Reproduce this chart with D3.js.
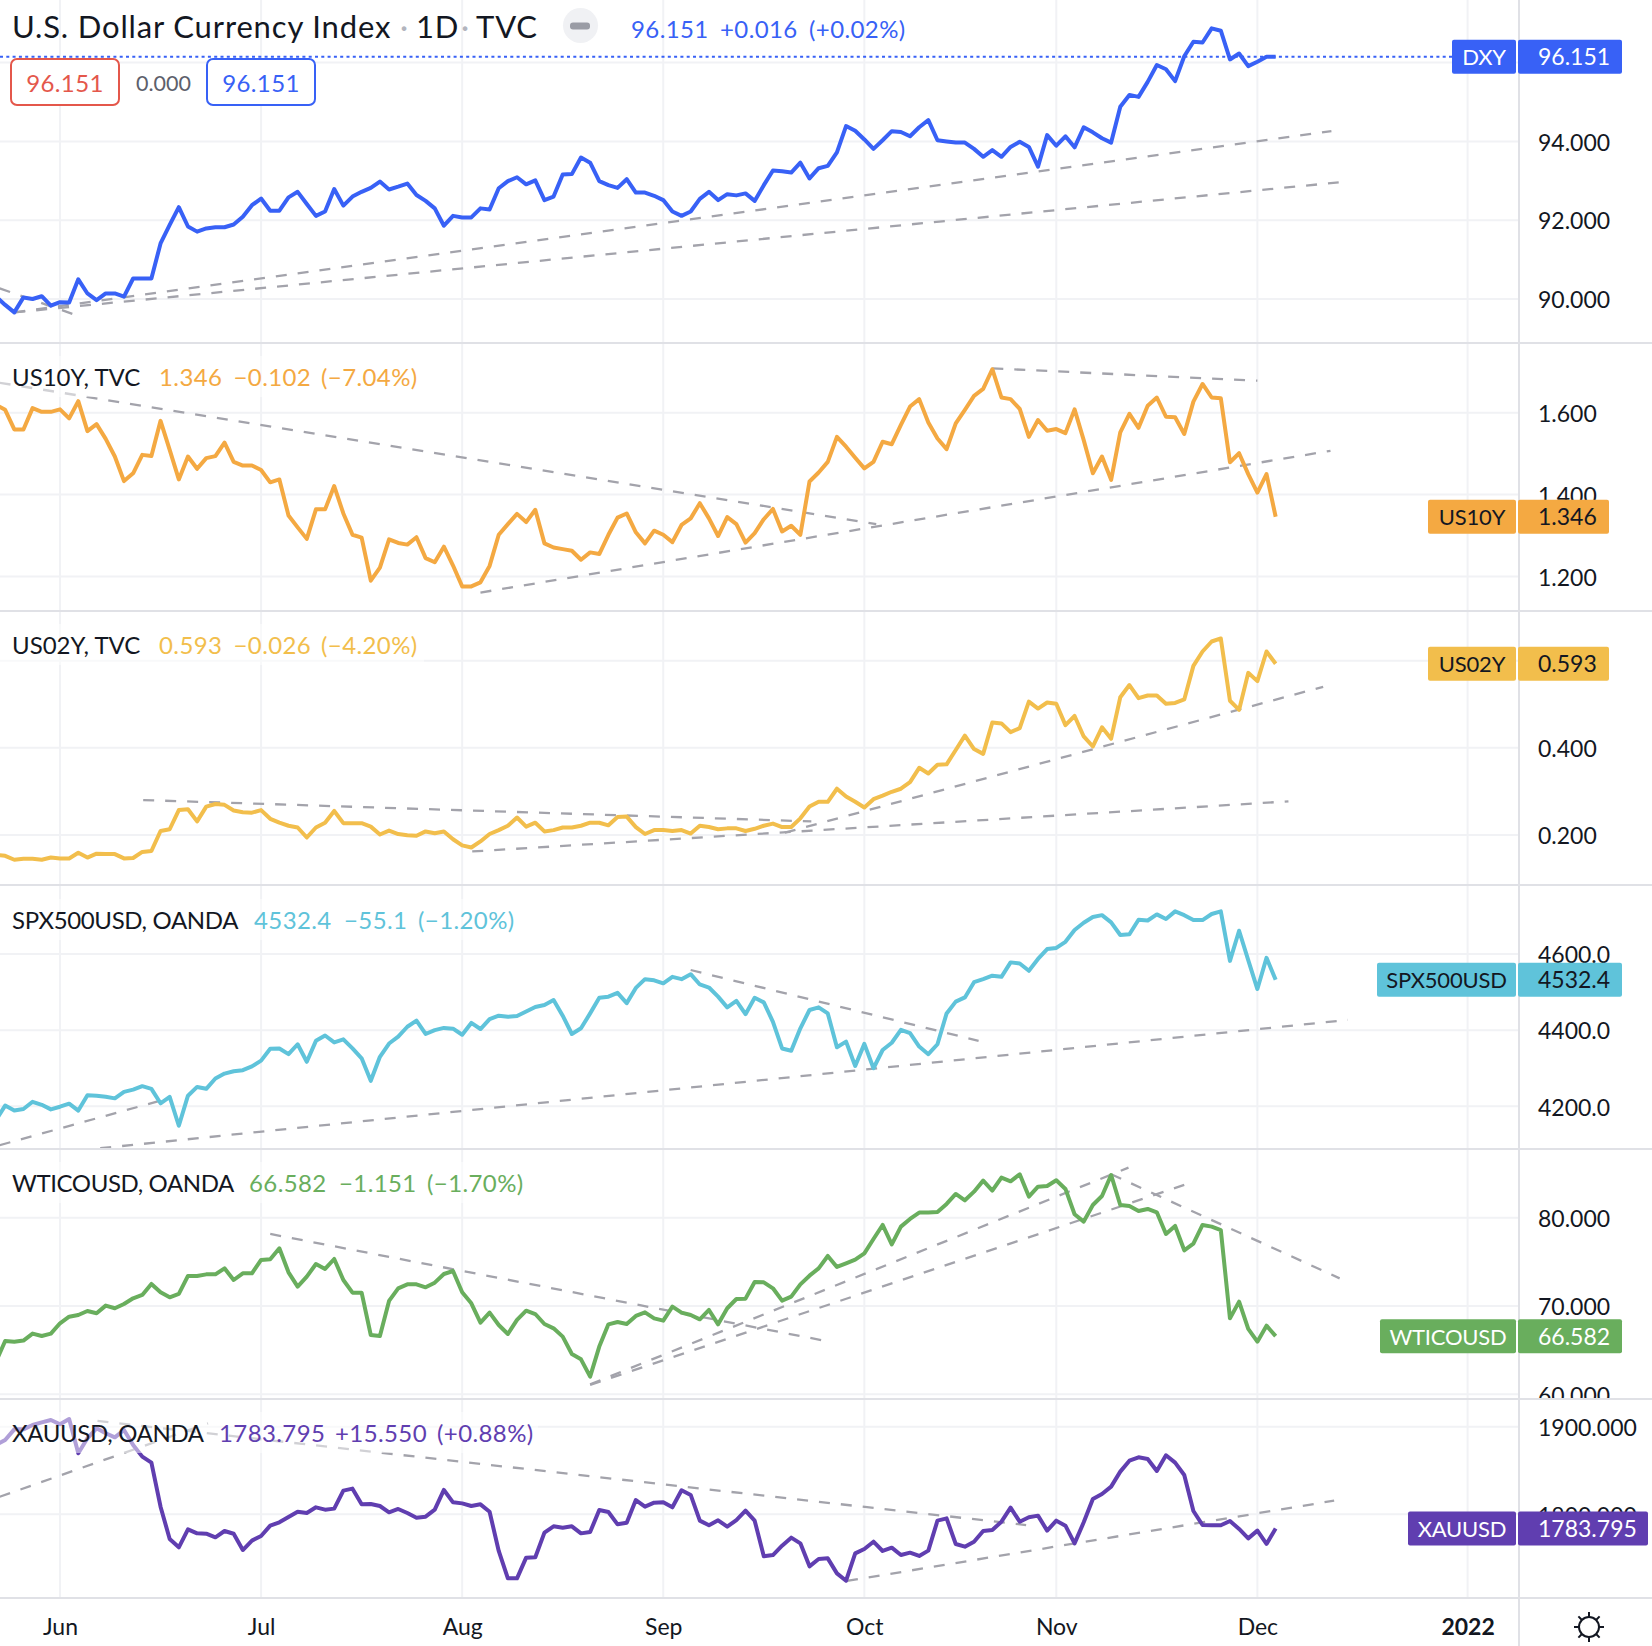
<!DOCTYPE html>
<html>
<head>
<meta charset="utf-8">
<script src="https://cdn.jsdelivr.net/npm/d3@7"></script>
<style>
  html, body { margin: 0; background: #fff; }
  text { font-family: Lato, "Noto Sans", sans-serif; }
</style>
</head>
<body>
<div id="chart"></div>
<script>
// daily closes, first value sits 7 bars before Jun 1 2021, last one is Dec 3
const dxy = [90.06,89.85,89.66,90.04,90.00,90.07,89.83,89.92,89.91,90.50,90.14,89.97,90.14,90.14,90.06,90.52,90.52,90.52,91.41,91.88,92.33,91.84,91.71,91.79,91.82,91.82,91.89,92.09,92.38,92.55,92.24,92.24,92.58,92.72,92.41,92.11,92.22,92.79,92.37,92.60,92.72,92.82,92.98,92.78,92.85,92.93,92.64,92.49,92.30,91.86,92.11,92.07,92.07,92.30,92.27,92.81,92.99,93.09,92.91,93.01,92.51,92.60,93.16,93.17,93.59,93.46,92.99,92.89,92.82,93.04,92.70,92.70,92.62,92.51,92.22,92.11,92.22,92.54,92.72,92.51,92.66,92.63,92.68,92.49,92.89,93.26,93.24,93.21,93.46,93.06,93.32,93.38,93.72,94.39,94.27,94.05,93.81,94.03,94.26,94.24,94.13,94.36,94.54,94.03,94.00,93.97,93.97,93.81,93.61,93.78,93.61,93.86,93.99,93.86,93.36,94.16,93.89,94.13,93.85,94.36,94.23,94.08,93.97,94.88,95.18,95.13,95.51,95.94,95.83,95.53,96.16,96.53,96.51,96.87,96.81,96.08,96.23,95.91,96.02,96.15,96.151];
const us10y = [1.619,1.607,1.559,1.559,1.611,1.602,1.602,1.608,1.586,1.628,1.555,1.572,1.536,1.493,1.433,1.452,1.497,1.494,1.580,1.509,1.437,1.493,1.463,1.489,1.494,1.527,1.480,1.471,1.471,1.460,1.430,1.437,1.349,1.320,1.292,1.364,1.364,1.421,1.354,1.302,1.295,1.190,1.222,1.291,1.282,1.278,1.296,1.245,1.235,1.273,1.227,1.176,1.176,1.186,1.226,1.302,1.328,1.353,1.333,1.363,1.281,1.271,1.267,1.263,1.241,1.259,1.255,1.302,1.344,1.354,1.308,1.281,1.312,1.302,1.284,1.326,1.342,1.379,1.342,1.299,1.345,1.328,1.283,1.306,1.340,1.365,1.310,1.324,1.302,1.432,1.454,1.480,1.541,1.517,1.490,1.464,1.480,1.529,1.523,1.570,1.615,1.633,1.576,1.537,1.511,1.574,1.607,1.641,1.658,1.706,1.637,1.633,1.609,1.541,1.582,1.556,1.560,1.550,1.608,1.533,1.452,1.493,1.436,1.552,1.597,1.563,1.617,1.637,1.590,1.589,1.548,1.627,1.670,1.637,1.635,1.479,1.501,1.450,1.405,1.450,1.346];
const us02y = [0.154,0.152,0.143,0.145,0.145,0.143,0.148,0.146,0.146,0.159,0.148,0.157,0.156,0.156,0.146,0.147,0.161,0.163,0.209,0.213,0.257,0.259,0.231,0.265,0.271,0.269,0.256,0.252,0.251,0.257,0.237,0.228,0.221,0.217,0.194,0.217,0.228,0.255,0.227,0.227,0.227,0.219,0.201,0.210,0.202,0.199,0.198,0.208,0.204,0.208,0.190,0.176,0.171,0.185,0.202,0.211,0.221,0.240,0.219,0.228,0.208,0.211,0.217,0.217,0.221,0.228,0.228,0.222,0.241,0.242,0.218,0.202,0.211,0.211,0.209,0.211,0.203,0.221,0.218,0.213,0.215,0.215,0.209,0.214,0.221,0.226,0.218,0.218,0.238,0.265,0.276,0.276,0.306,0.288,0.276,0.263,0.282,0.290,0.299,0.306,0.321,0.354,0.341,0.361,0.362,0.395,0.428,0.397,0.386,0.458,0.456,0.436,0.445,0.506,0.490,0.504,0.501,0.452,0.473,0.426,0.403,0.447,0.421,0.516,0.544,0.514,0.520,0.520,0.501,0.503,0.511,0.588,0.621,0.644,0.651,0.508,0.487,0.572,0.553,0.621,0.593];
const spx = [4164,4202,4189,4193,4212,4204,4192,4199,4207,4189,4229,4228,4225,4221,4238,4244,4253,4246,4208,4225,4149,4228,4251,4246,4273,4286,4292,4295,4305,4320,4351,4352,4337,4363,4317,4372,4386,4368,4376,4352,4326,4267,4330,4365,4383,4409,4425,4390,4400,4406,4404,4388,4419,4403,4429,4438,4435,4437,4449,4461,4466,4479,4438,4390,4405,4444,4485,4488,4498,4471,4511,4534,4531,4523,4540,4534,4547,4520,4512,4488,4460,4477,4442,4485,4473,4422,4352,4346,4405,4453,4460,4444,4355,4370,4306,4364,4300,4348,4367,4401,4392,4357,4337,4363,4444,4475,4486,4526,4534,4543,4540,4578,4575,4556,4587,4613,4616,4632,4663,4682,4697,4702,4683,4650,4652,4690,4688,4704,4692,4712,4702,4689,4689,4705,4712,4582,4661,4584,4508,4590,4532.4];
const wti = [63.70,66.04,65.96,66.08,66.87,66.60,66.87,68.04,68.79,68.98,69.43,69.17,70.04,69.74,70.23,70.87,71.25,72.49,71.55,70.98,71.36,73.40,73.40,73.58,73.58,74.26,72.94,73.70,73.70,75.21,75.28,76.53,73.81,72.19,73.32,74.75,74.19,75.32,72.94,71.51,71.51,66.72,66.60,70.57,72.00,72.45,72.45,72.11,72.64,73.62,73.96,71.55,70.30,68.11,69.25,67.85,66.83,68.42,69.47,69.09,67.96,67.47,66.53,64.57,63.96,62.00,65.40,67.92,68.19,67.96,68.87,69.28,68.60,68.34,69.92,69.25,68.98,68.49,69.55,67.92,69.74,70.79,70.83,72.72,72.68,72.00,70.60,71.06,72.45,73.43,74.26,75.66,74.42,74.83,75.25,75.96,77.58,79.17,76.98,78.98,79.85,80.57,80.57,80.64,81.55,82.68,81.96,82.94,84.19,83.06,84.53,84.11,84.91,82.38,83.51,83.58,84.23,83.25,80.38,79.55,81.43,82.45,84.83,81.43,81.32,80.75,80.98,80.60,78.15,79.06,76.30,77.06,79.17,78.98,78.60,68.60,70.49,67.40,65.96,67.77,66.582];
const xau = [1879.1,1884.8,1896.9,1896.9,1901.9,1904.9,1907.6,1902.7,1908.7,1869.6,1886.7,1898.1,1892.4,1887.8,1896.2,1879.1,1865.8,1858.9,1808.7,1771.9,1762.4,1782.9,1778.3,1777.9,1773.8,1781.0,1777.9,1759.3,1770.0,1775.3,1787.1,1790.9,1797.0,1803.0,1801.5,1808.0,1805.3,1806.5,1827.0,1829.3,1811.4,1811.8,1809.5,1802.3,1806.1,1801.5,1796.2,1797.3,1805.3,1827.8,1813.7,1812.5,1809.5,1811.4,1803.0,1758.2,1727.0,1727.0,1750.6,1751.0,1779.1,1786.3,1784.8,1786.3,1778.3,1779.8,1804.9,1802.7,1788.6,1790.5,1816.3,1808.7,1813.3,1813.7,1808.0,1827.4,1822.1,1792.8,1787.5,1793.2,1785.9,1793.5,1804.2,1792.8,1752.1,1753.6,1764.3,1773.4,1766.9,1740.7,1749.1,1749.8,1732.7,1724.3,1755.5,1760.5,1768.8,1758.2,1762.0,1753.6,1756.3,1752.5,1758.6,1792.8,1795.4,1766.2,1763.1,1768.8,1781.0,1782.1,1791.6,1807.6,1791.6,1796.6,1798.5,1781.4,1792.8,1787.1,1766.9,1790.9,1817.5,1823.2,1831.6,1848.7,1861.2,1865.0,1863.1,1849.4,1867.3,1858.9,1844.9,1803.8,1787.8,1787.5,1787.5,1792.4,1783.3,1772.6,1781.4,1766.2,1783.795];

// hand drawn trend lines: [bar, value, bar, value]
const dxyTrends = [[-6.6,90.27,2,89.57],[-5,89.66,139.1,94.26],[-5,89.66,139.9,92.96]];
const us10yTrends = [[-6.6,1.673,89.3,1.328],[46,1.161,139,1.507],[102,1.708,131,1.678]];
const us02yTrends = [[9.1,0.28,82.2,0.231],[45.1,0.162,134.4,0.277],[79.3,0.205,138.2,0.54]];
const spxTrends = [[-6.6,4098,11.9,4221],[4.4,4090,140.9,4427],[69,4558,100.5,4372]];
const wtiTrends = [[23,78.15,83.6,66.08],[58,61.13,116.9,85.66],[58,61.06,123,83.7],[115,84.91,140,73.13]];
const xauTrends = [[-6.6,1820,16.2,1903.8],[4.1,1906.5,105.7,1787.8],[86.1,1724,139.4,1815.6]];

const monthBars = [0, 22, 44, 66, 88, 109, 131, 154];
const monthLabels = ["Jun", "Jul", "Aug", "Sep", "Oct", "Nov", "Dec", "2022"];

const series = [dxy, us10y, us02y, spx, wti, xau];
const trends = [dxyTrends, us10yTrends, us02yTrends, spxTrends, wtiTrends, xauTrends];
const symbols = ["DXY", "US10Y", "US02Y", "SPX500USD", "WTICOUSD", "XAUUSD"];
const lastLabels = ["96.151", "1.346", "0.593", "4532.4", "66.582", "1783.795"];
const titles = ["", "US10Y, TVC", "US02Y, TVC", "SPX500USD, OANDA", "WTICOUSD, OANDA", "XAUUSD, OANDA"];
const changes = ["+0.016", "−0.102", "−0.026", "−55.1", "−1.151", "+15.550"];
const percents = ["(+0.02%)", "(−7.04%)", "(−4.20%)", "(−1.20%)", "(−1.70%)", "(+0.88%)"];
// grid lines; 96 and 0.6 have no visible label, their tag sits on top
const gridTicks = [
  [90, 92, 94, 96],
  [1.2, 1.4, 1.6],
  [0.2, 0.4, 0.6],
  [4200, 4400, 4600],
  [60, 70, 80],
  [1800, 1900],
];
const labelTicks = [
  [90, 92, 94],
  [1.2, 1.4, 1.6],
  [0.2, 0.4],
  [4200, 4400, 4600],
  [60, 70, 80],
  [1800, 1900],
];
const tickFormats = [".3f", ".3f", ".3f", ".1f", ".3f", ".3f"];
const priceDomains = [
  [88.883, 97.589],
  [1.116, 1.77],
  [0.085, 0.714],
  [4088, 4781.2],
  [59.47, 87.77],
  [1704.6, 1931.5],
];

// layout
const width = 1652;
const height = 1646;
const axisX = 1519;
const labelX = 1538;
const paneEdges = [0, 343, 611, 885, 1149, 1399, 1598];
const colors = ["#3861f6", "#f4a942", "#f2be4c", "#5fc3da", "#69ae5d", "#603eb0"];
const tagTextColors = ["#fff", "#131722", "#131722", "#131722", "#fff", "#fff"];
const tagLeft = [1452, 1428, 1428, 1377, 1380, 1408];
const tagRight = [1622, 1609, 1609, 1622, 1622, 1648];
const legendY = [29, 377, 645, 920, 1183, 1433];
const legendXs = [
  [631, 720, 809],
  [159, 233.5, 321],
  [159, 233.5, 321],
  [254, 344, 418],
  [249, 339, 427],
  [219, 335, 437],
];
const legendEnd = [0, 424, 424, 520, 528, 538];
const titleSpacing = [0, 0, 0, -0.35, -0.4, -0.35];
const gridColor = "#f1f2f5";
const borderColor = "#e0e1e6";
const textColor = "#131722";
const fontSize = 24;
const priceFontSize = 23;

const svg = d3
  .select("#chart")
  .append("svg")
  .attr("width", width)
  .attr("height", height)
  .style("display", "block");

const xScale = d3.scaleLinear().domain([0, 154]).range([60, 1467.6]);

const yScales = priceDomains.map((d, i) =>
  d3.scaleLinear().domain(d).range([paneEdges[i + 1], paneEdges[i]])
);

// clips, one per pane
const defs = svg.append("defs");
series.forEach((s, i) => {
  defs
    .append("clipPath")
    .attr("id", `pane-${i}`)
    .append("rect")
    .attr("x", 0)
    .attr("y", paneEdges[i])
    .attr("width", width)
    .attr("height", paneEdges[i + 1] - paneEdges[i]);
});

// vertical grid through every pane
svg
  .append("g")
  .selectAll("line")
  .data(monthBars)
  .enter()
  .append("line")
  .attr("x1", (d) => xScale(d))
  .attr("x2", (d) => xScale(d))
  .attr("y1", 0)
  .attr("y2", paneEdges[6])
  .attr("stroke", gridColor)
  .attr("stroke-width", 2);

const lineGen = (yScale) =>
  d3
    .line()
    .x((d, i) => xScale(i - 7))
    .y((d) => yScale(d));

series.forEach((values, i) => {
  const yScale = yScales[i];
  const pane = svg.append("g").attr("clip-path", `url(#pane-${i})`);

  pane
    .append("g")
    .selectAll("line")
    .data(gridTicks[i])
    .enter()
    .append("line")
    .attr("x1", 0)
    .attr("x2", axisX)
    .attr("y1", (d) => yScale(d))
    .attr("y2", (d) => yScale(d))
    .attr("stroke", gridColor)
    .attr("stroke-width", 2);

  pane
    .append("g")
    .selectAll("line")
    .data(trends[i])
    .enter()
    .append("line")
    .attr("x1", (d) => xScale(d[0]))
    .attr("y1", (d) => yScale(d[1]))
    .attr("x2", (d) => xScale(d[2]))
    .attr("y2", (d) => yScale(d[3]))
    .attr("stroke", "#a3a3ab")
    .attr("stroke-width", 2.3)
    .attr("stroke-dasharray", "11 11");

  pane
    .append("path")
    .attr("d", lineGen(yScale)(values))
    .attr("fill", "none")
    .attr("stroke", colors[i])
    .attr("stroke-width", 4)
    .attr("stroke-linejoin", "round");

  // price axis on the right
  const yAxis = d3
    .axisRight(yScale)
    .tickValues(labelTicks[i])
    .tickSize(0)
    .tickPadding(labelX - axisX)
    .tickFormat(d3.format(tickFormats[i]));

  const gy = pane
    .append("g")
    .attr("transform", `translate(${axisX}, 0)`)
    .call(yAxis);
  gy.select(".domain").remove();
  gy.selectAll("text")
    .attr("dy", "0.38em")
    .style("font-family", "Lato, 'Noto Sans', sans-serif")
    .style("font-size", priceFontSize + "px")
    .attr("fill", textColor);

  // legend row, washes out what runs behind it
  if (i > 0) {
    svg
      .append("rect")
      .attr("x", 0)
      .attr("y", legendY[i] - 21)
      .attr("width", legendEnd[i])
      .attr("height", 41)
      .attr("fill", "#fff")
      .attr("opacity", 0.5);

    svg
      .append("text")
      .attr("x", 12)
      .attr("y", legendY[i])
      .attr("dy", "0.38em")
      .attr("font-size", fontSize)
      .attr("letter-spacing", titleSpacing[i])
      .attr("fill", textColor)
      .text(titles[i]);
  }

  [lastLabels[i], changes[i], percents[i]].forEach((t, j) => {
    svg
      .append("text")
      .attr("x", legendXs[i][j])
      .attr("y", legendY[i])
      .attr("dy", "0.38em")
      .attr("font-size", fontSize)
      .attr("letter-spacing", 0.4)
      .attr("fill", colors[i])
      .text(t);
  });
});

// top pane extras
svg
  .append("line")
  .attr("x1", 0)
  .attr("x2", tagLeft[0])
  .attr("y1", yScales[0](dxy[dxy.length - 1]))
  .attr("y2", yScales[0](dxy[dxy.length - 1]))
  .attr("stroke", colors[0])
  .attr("stroke-width", 2)
  .attr("stroke-dasharray", "3 3.3");

const titleRow = svg
  .append("g")
  .attr("font-size", 31)
  .attr("letter-spacing", 0.85)
  .attr("fill", textColor);
titleRow.append("text").attr("x", 12).attr("y", 27).attr("dy", "0.35em").text("U.S. Dollar Currency Index");
titleRow.append("text").attr("x", 400).attr("y", 27).attr("dy", "0.35em").attr("fill", "#b2b5be").text("·");
titleRow.append("text").attr("x", 416).attr("y", 27).attr("dy", "0.35em").text("1D");
titleRow.append("text").attr("x", 461).attr("y", 27).attr("dy", "0.35em").attr("fill", "#b2b5be").text("·");
titleRow.append("text").attr("x", 476).attr("y", 27).attr("dy", "0.35em").text("TVC");

svg.append("rect").attr("x", 563).attr("y", 8).attr("width", 35).attr("height", 35).attr("rx", 17.5).attr("fill", "#f0f1f4");
svg.append("rect").attr("x", 570).attr("y", 22.5).attr("width", 20).attr("height", 7).attr("rx", 3).attr("fill", "#9a9ca5");

const boxes = [
  { x: 11, w: 108, color: "#e4574b", text: "96.151" },
  { x: 207, w: 108, color: colors[0], text: "96.151" },
];
boxes.forEach((b) => {
  svg
    .append("rect")
    .attr("x", b.x)
    .attr("y", 59)
    .attr("width", b.w)
    .attr("height", 46)
    .attr("rx", 6)
    .attr("fill", "#fff")
    .attr("stroke", b.color)
    .attr("stroke-width", 2);
  svg
    .append("text")
    .attr("x", b.x + b.w / 2)
    .attr("y", 83)
    .attr("dy", "0.38em")
    .attr("text-anchor", "middle")
    .attr("font-size", fontSize)
    .attr("letter-spacing", 0.4)
    .attr("fill", b.color)
    .text(b.text);
});
svg
  .append("text")
  .attr("x", 136)
  .attr("y", 83)
  .attr("dy", "0.36em")
  .attr("font-size", 21.5)
  .attr("fill", "#5d606b")
  .text("0.000");

// pane borders and the axis rule
svg
  .append("g")
  .selectAll("line")
  .data(paneEdges.slice(1))
  .enter()
  .append("line")
  .attr("x1", 0)
  .attr("x2", width)
  .attr("y1", (d) => d)
  .attr("y2", (d) => d)
  .attr("stroke", borderColor)
  .attr("stroke-width", 2);

svg
  .append("line")
  .attr("x1", axisX)
  .attr("x2", axisX)
  .attr("y1", 0)
  .attr("y2", height)
  .attr("stroke", borderColor)
  .attr("stroke-width", 2);

// last price tags
series.forEach((values, i) => {
  const y = yScales[i](values[values.length - 1]);
  const symbolW = axisX - 3 - tagLeft[i];
  svg
    .append("rect")
    .attr("x", tagLeft[i])
    .attr("y", y - 17)
    .attr("width", symbolW)
    .attr("height", 34)
    .attr("rx", 2)
    .attr("fill", colors[i]);
  svg
    .append("rect")
    .attr("x", axisX - 1)
    .attr("y", y - 17)
    .attr("width", tagRight[i] - axisX + 1)
    .attr("height", 34)
    .attr("rx", 2)
    .attr("fill", colors[i]);
  svg
    .append("text")
    .attr("x", tagLeft[i] + symbolW / 2)
    .attr("y", y)
    .attr("dy", "0.38em")
    .attr("text-anchor", "middle")
    .attr("font-size", 22)
    .attr("letter-spacing", -0.2)
    .attr("fill", tagTextColors[i])
    .text(symbols[i]);
  svg
    .append("text")
    .attr("x", labelX)
    .attr("y", y)
    .attr("dy", "0.38em")
    .attr("font-size", priceFontSize)
    .attr("fill", tagTextColors[i])
    .text(lastLabels[i]);
});

// time axis
const xAxis = d3
  .axisBottom(xScale)
  .tickValues(monthBars)
  .tickSize(0)
  .tickPadding(0)
  .tickFormat((d, i) => monthLabels[i]);

const gx = svg.append("g").attr("transform", `translate(0, ${paneEdges[6]})`).call(xAxis);
gx.select(".domain").remove();
gx.selectAll("text")
  .attr("y", 29)
  .attr("dy", "0.35em")
  .style("font-family", "Lato, 'Noto Sans', sans-serif")
  .style("font-size", priceFontSize + "px")
  .style("font-weight", (d) => (d === 154 ? "bold" : "normal"))
  .attr("fill", textColor);

// little sun button in the corner
const sun = svg
  .append("g")
  .attr("transform", "translate(1589, 1627)")
  .attr("fill", "none")
  .attr("stroke", textColor)
  .attr("stroke-width", 2);
sun.append("circle").attr("r", 10);
sun
  .selectAll("line")
  .data(d3.range(8))
  .enter()
  .append("line")
  .attr("y1", -10)
  .attr("y2", -15)
  .attr("transform", (d) => `rotate(${d * 45})`);
</script>
</body>
</html>
